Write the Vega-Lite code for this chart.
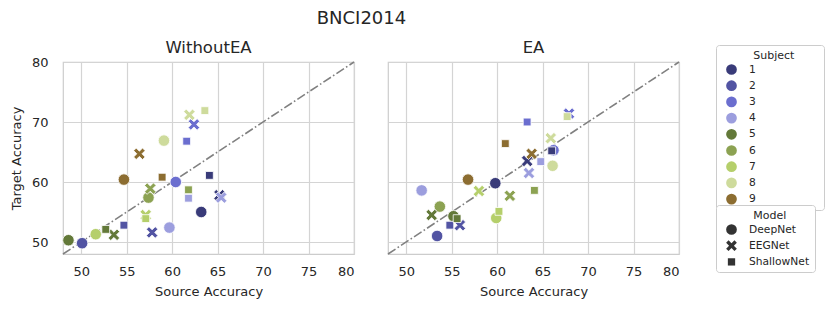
{
  "$schema": "https://vega.github.io/schema/vega-lite/v6.json",
  "title": {"text": "BNCI2014", "fontSize": 18, "font": "DejaVu Sans", "fontWeight": "normal", "color": "#262626", "anchor": "middle", "offset": 12, "dx": -56},
  "padding": {"left": 10, "top": 9, "right": 5, "bottom": 5},
  "data": {"values": [
    {"Method": "WithoutEA", "Source": 48, "Target": 48, "Source_end": 80, "Target_end": 80},
    {"Method": "EA", "Source": 48, "Target": 48, "Source_end": 80, "Target_end": 80},
    {"Method": "WithoutEA", "Model": "DeepNet", "Subject": "1", "Source": 63.2, "Target": 55.0},
    {"Method": "WithoutEA", "Model": "DeepNet", "Subject": "2", "Source": 50.1, "Target": 49.8},
    {"Method": "WithoutEA", "Model": "DeepNet", "Subject": "3", "Source": 60.4, "Target": 60.0},
    {"Method": "WithoutEA", "Model": "DeepNet", "Subject": "4", "Source": 59.7, "Target": 52.4},
    {"Method": "WithoutEA", "Model": "DeepNet", "Subject": "5", "Source": 48.6, "Target": 50.3},
    {"Method": "WithoutEA", "Model": "DeepNet", "Subject": "6", "Source": 57.4, "Target": 57.4},
    {"Method": "WithoutEA", "Model": "DeepNet", "Subject": "7", "Source": 51.6, "Target": 51.3},
    {"Method": "WithoutEA", "Model": "DeepNet", "Subject": "8", "Source": 59.1, "Target": 66.9},
    {"Method": "WithoutEA", "Model": "DeepNet", "Subject": "9", "Source": 54.7, "Target": 60.4},
    {"Method": "WithoutEA", "Model": "EEGNet", "Subject": "1", "Source": 65.2, "Target": 57.8},
    {"Method": "WithoutEA", "Model": "EEGNet", "Subject": "2", "Source": 57.8, "Target": 51.6},
    {"Method": "WithoutEA", "Model": "EEGNet", "Subject": "3", "Source": 62.4, "Target": 69.6},
    {"Method": "WithoutEA", "Model": "EEGNet", "Subject": "4", "Source": 65.4, "Target": 57.4},
    {"Method": "WithoutEA", "Model": "EEGNet", "Subject": "5", "Source": 53.6, "Target": 51.2},
    {"Method": "WithoutEA", "Model": "EEGNet", "Subject": "6", "Source": 57.6, "Target": 58.9},
    {"Method": "WithoutEA", "Model": "EEGNet", "Subject": "7", "Source": 57.1, "Target": 54.5},
    {"Method": "WithoutEA", "Model": "EEGNet", "Subject": "8", "Source": 61.9, "Target": 71.2},
    {"Method": "WithoutEA", "Model": "EEGNet", "Subject": "9", "Source": 56.4, "Target": 64.7},
    {"Method": "WithoutEA", "Model": "ShallowNet", "Subject": "1", "Source": 64.1, "Target": 61.1},
    {"Method": "WithoutEA", "Model": "ShallowNet", "Subject": "2", "Source": 54.7, "Target": 52.8},
    {"Method": "WithoutEA", "Model": "ShallowNet", "Subject": "3", "Source": 61.6, "Target": 66.8},
    {"Method": "WithoutEA", "Model": "ShallowNet", "Subject": "4", "Source": 61.8, "Target": 57.3},
    {"Method": "WithoutEA", "Model": "ShallowNet", "Subject": "5", "Source": 52.7, "Target": 52.1},
    {"Method": "WithoutEA", "Model": "ShallowNet", "Subject": "6", "Source": 61.8, "Target": 58.7},
    {"Method": "WithoutEA", "Model": "ShallowNet", "Subject": "7", "Source": 57.1, "Target": 53.9},
    {"Method": "WithoutEA", "Model": "ShallowNet", "Subject": "8", "Source": 63.6, "Target": 71.9},
    {"Method": "WithoutEA", "Model": "ShallowNet", "Subject": "9", "Source": 58.9, "Target": 60.8},
    {"Method": "EA", "Model": "DeepNet", "Subject": "1", "Source": 59.8, "Target": 59.8},
    {"Method": "EA", "Model": "DeepNet", "Subject": "2", "Source": 53.4, "Target": 51.0},
    {"Method": "EA", "Model": "DeepNet", "Subject": "3", "Source": 66.2, "Target": 65.3},
    {"Method": "EA", "Model": "DeepNet", "Subject": "4", "Source": 51.7, "Target": 58.6},
    {"Method": "EA", "Model": "DeepNet", "Subject": "5", "Source": 55.2, "Target": 54.3},
    {"Method": "EA", "Model": "DeepNet", "Subject": "6", "Source": 53.7, "Target": 55.9},
    {"Method": "EA", "Model": "DeepNet", "Subject": "7", "Source": 59.9, "Target": 54.0},
    {"Method": "EA", "Model": "DeepNet", "Subject": "8", "Source": 66.1, "Target": 62.7},
    {"Method": "EA", "Model": "DeepNet", "Subject": "9", "Source": 56.8, "Target": 60.4},
    {"Method": "EA", "Model": "EEGNet", "Subject": "1", "Source": 63.3, "Target": 63.5},
    {"Method": "EA", "Model": "EEGNet", "Subject": "2", "Source": 55.9, "Target": 52.8},
    {"Method": "EA", "Model": "EEGNet", "Subject": "3", "Source": 67.9, "Target": 71.4},
    {"Method": "EA", "Model": "EEGNet", "Subject": "4", "Source": 63.5, "Target": 61.5},
    {"Method": "EA", "Model": "EEGNet", "Subject": "5", "Source": 52.8, "Target": 54.5},
    {"Method": "EA", "Model": "EEGNet", "Subject": "6", "Source": 61.4, "Target": 57.7},
    {"Method": "EA", "Model": "EEGNet", "Subject": "7", "Source": 58.0, "Target": 58.5},
    {"Method": "EA", "Model": "EEGNet", "Subject": "8", "Source": 65.9, "Target": 67.3},
    {"Method": "EA", "Model": "EEGNet", "Subject": "9", "Source": 63.8, "Target": 64.7},
    {"Method": "EA", "Model": "ShallowNet", "Subject": "1", "Source": 66.0, "Target": 65.2},
    {"Method": "EA", "Model": "ShallowNet", "Subject": "2", "Source": 54.8, "Target": 52.8},
    {"Method": "EA", "Model": "ShallowNet", "Subject": "3", "Source": 63.3, "Target": 70.0},
    {"Method": "EA", "Model": "ShallowNet", "Subject": "4", "Source": 64.8, "Target": 63.4},
    {"Method": "EA", "Model": "ShallowNet", "Subject": "5", "Source": 55.6, "Target": 53.9},
    {"Method": "EA", "Model": "ShallowNet", "Subject": "6", "Source": 64.1, "Target": 58.6},
    {"Method": "EA", "Model": "ShallowNet", "Subject": "7", "Source": 60.2, "Target": 55.1},
    {"Method": "EA", "Model": "ShallowNet", "Subject": "8", "Source": 67.7, "Target": 70.9},
    {"Method": "EA", "Model": "ShallowNet", "Subject": "9", "Source": 60.9, "Target": 66.4}
  ]},
  "facet": {"column": {"field": "Method", "type": "nominal", "sort": ["WithoutEA", "EA"],
    "header": {"title": null, "labelFontSize": 16.5, "labelFont": "DejaVu Sans", "labelColor": "#262626", "labelPadding": 4}}},
  "spacing": 30,
  "spec": {
    "width": 291,
    "height": 192,
    "layer": [
      {
        "transform": [{"filter": "!isValid(datum.Subject)"}],
        "mark": {"type": "rule", "color": "#808080", "strokeWidth": 1.6, "strokeDash": [9, 2.5, 1.6, 2.5]},
        "encoding": {
          "x": {"field": "Source", "type": "quantitative", "scale": {"domain": [48, 80], "nice": false, "zero": false}, "axis": {"title": "Source Accuracy", "values": [50, 55, 60, 65, 70, 75, 80]}},
          "y": {"field": "Target", "type": "quantitative", "scale": {"domain": [48, 80], "nice": false, "zero": false}, "axis": {"title": "Target Accuracy", "values": [50, 60, 70, 80]}},
          "x2": {"field": "Source_end"},
          "y2": {"field": "Target_end"}
        }
      },
      {
        "transform": [{"filter": "isValid(datum.Subject)"}],
        "mark": {"type": "point", "filled": true, "opacity": 1, "size": 132, "stroke": "white", "strokeWidth": 0.8, "strokeOpacity": 1},
        "encoding": {
          "x": {"field": "Source", "type": "quantitative", "scale": {"domain": [48, 80], "nice": false, "zero": false}, "axis": {"title": "Source Accuracy", "values": [50, 55, 60, 65, 70, 75, 80]}},
          "y": {"field": "Target", "type": "quantitative", "scale": {"domain": [48, 80], "nice": false, "zero": false}, "axis": {"title": "Target Accuracy", "values": [50, 60, 70, 80]}},
          "color": {"field": "Subject", "type": "nominal",
            "scale": {"domain": ["1","2","3","4","5","6","7","8","9"], "range": ["#393b79","#5254a3","#6b6ecf","#9c9ede","#637939","#8ca252","#b5cf6b","#cedb9c","#8c6d31"]},
            "legend": {"title": "\u2800\u2800\u2800\u2800Subject\u2800\u2800\u2800", "orient": "none", "legendX": 653, "legendY": -17, "symbolType": "circle", "titleAnchor": "start"}},
          "shape": {"field": "Model", "type": "nominal",
            "scale": {"domain": ["DeepNet", "EEGNet", "ShallowNet"], "range": ["circle", "M-1,-0.55L-0.55,-1L0,-0.45L0.55,-1L1,-0.55L0.45,0L1,0.55L0.55,1L0,0.45L-0.55,1L-1,0.55L-0.45,0Z", "M-0.68,-0.68H0.68V0.68H-0.68Z"]},
            "legend": {"title": "\u2800\u2800\u2800\u2800Model", "orient": "none", "legendX": 653, "legendY": 143, "symbolFillColor": "#333333", "titleAnchor": "start"}}
        }
      }
    ]
  },
  "config": {
    "font": "DejaVu Sans",
    "view": {"stroke": "#cccccc", "strokeWidth": 1.2},
    "axis": {"grid": true, "gridColor": "#d4d4d4", "gridWidth": 1.2, "domain": false, "ticks": false,
      "labelFont": "DejaVu Sans", "labelFontSize": 13, "labelColor": "#262626",
      "titleFont": "DejaVu Sans", "titleFontSize": 13, "titleFontWeight": "normal", "titleColor": "#262626"},
    "axisX": {"labelPadding": 9, "titlePadding": 7},
    "axisY": {"labelPadding": 12, "titlePadding": 8},
    "legend": {"strokeColor": "#cccccc", "fillColor": "white", "padding": 5, "cornerRadius": 3, "symbolOffset": 5,
      "titleFont": "DejaVu Sans", "titleFontSize": 11, "titleFontWeight": "normal", "titleColor": "#262626", "titlePadding": 3,
      "labelFont": "DejaVu Sans", "labelFontSize": 10.7, "labelColor": "#262626", "labelOffset": 12,
      "symbolSize": 115, "rowPadding": 4.2, "symbolStrokeWidth": 0}
  }
}
